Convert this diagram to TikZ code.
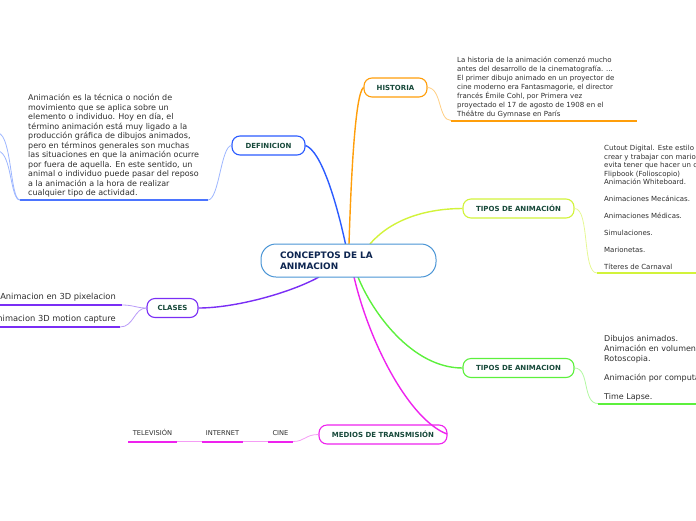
\documentclass[tikz,border=0pt]{standalone}
\usepackage{fontspec}
\setmainfont{DejaVu Sans}
\definecolor{cblue}{HTML}{4A95D5}
\definecolor{ctext}{HTML}{0D2550}
\definecolor{ntext}{HTML}{17493A}
\definecolor{btext}{HTML}{2E2E2E}
\definecolor{dblue}{HTML}{2B5BFF}
\definecolor{dbluel}{HTML}{9DB6FF}
\definecolor{horange}{HTML}{FF9E0A}
\definecolor{horangel}{HTML}{FFCF85}
\definecolor{tyel}{HTML}{D2F33A}
\definecolor{tyell}{HTML}{E6F894}
\definecolor{tgreen}{HTML}{5CF03C}
\definecolor{tgreenl}{HTML}{B2F8A2}
\definecolor{mmag}{HTML}{EE22EE}
\definecolor{mmagl}{HTML}{F59CF5}
\definecolor{cpur}{HTML}{7A2EF5}
\definecolor{cpurl}{HTML}{BA9CF8}
\begin{document}
\begin{tikzpicture}[x=1pt,y=-1pt,
  box/.style={draw, rounded corners=8pt, fill=white, line width=1.1pt, minimum height=19pt, inner sep=0pt, font=\fontsize{7}{8}\selectfont\bfseries, text=ntext},
  mainline/.style={line width=1.4pt},
  subline/.style={line width=0.8pt},
  uline/.style={line width=2pt},
  txt/.style={inner sep=0pt, align=left, text=btext, anchor=north west}]
\useasboundingbox (0,0) rectangle (696,520);
\clip (0,0) rectangle (696,520);

% ---------- main connectors (drawn first, boxes on top)
\coordinate (cDef) at (345.5,244);
\coordinate (cHis) at (349,244);
\coordinate (cTy1) at (370,244);
\coordinate (cTy2) at (358,277);
\coordinate (cMed) at (354,277);
\coordinate (cCla) at (319,277);
\coordinate (medR) at (447,434);

% ---------- nodes
\node[box, draw=dblue, minimum width=73pt] (def) at (268.5,145.5) {DEFINICION};
\node[box, draw=horange, minimum width=63pt] (his) at (395.5,87.5) {HISTORIA};
\node[box, draw=tyel, minimum width=111pt] (ty1) at (518.5,208.5) {TIPOS DE ANIMACIÓN};
\node[box, draw=tgreen, minimum width=111pt] (ty2) at (518.5,368) {TIPOS DE ANIMACION};
\node[box, draw=mmag, minimum width=128pt] (med) at (383,434.5) {MEDIOS DE TRANSMISIÓN};
\node[box, draw=cpur, minimum width=51pt] (cla) at (172.5,308) {CLASES};

\draw[mainline, dblue] (cDef) .. controls (336,200) and (321,151) .. (def.east);
\draw[mainline, horange] (cHis) .. controls (351,180) and (355,94) .. (his.west);
\draw[mainline, tyel] (cTy1) .. controls (395,215) and (435,208.5) .. (ty1.west);
\draw[mainline, tgreen] (cTy2) .. controls (372,312) and (412,368) .. (ty2.west);
\draw[mainline, cpur] (cCla) .. controls (290,293) and (235,308) .. (cla.east);
\draw[mainline, mmag] (cMed) .. controls (370,345) and (410,420) .. (medR);

\node[draw=cblue, line width=1pt, fill=white, rounded corners=15pt, text width=137pt, align=left,
  minimum height=33pt, inner xsep=19pt, inner ysep=0pt,
  font=\fontsize{8.9}{11}\selectfont\bfseries, text=ctext] (c) at (348.5,260.5) {CONCEPTOS DE LA\\ANIMACION};

% ---------- DEFINICION branch
\coordinate (defR) at (208,200);
\coordinate (defL) at (20,200);
\coordinate (defO1) at (-2,133);
\coordinate (defO2) at (-2,151);
\draw[subline, dbluel] (def.west) .. controls (221,146) and (219,200) .. (defR);
\draw[uline, dblue!85] (defL) -- (defR);
\draw[subline, dbluel] (defL) .. controls (10,200) and (12,135) .. (defO1);
\draw[subline, dbluel] (defL) .. controls (10,200) and (12,153) .. (defO2);
\node[txt, font=\fontsize{8}{9.5}\selectfont] (deftxt) at (28,94.3) {Animación es la técnica o noción de\\movimiento que se aplica sobre un\\elemento o individuo. Hoy en día, el\\término animación está muy ligado a la\\producción gráfica de dibujos animados,\\pero en términos generales son muchas\\las situaciones en que la animación ocurre\\por fuera de aquella. En este sentido, un\\animal o individuo puede pasar del reposo\\a la animación a la hora de realizar\\cualquier tipo de actividad.};

% ---------- HISTORIA branch
\coordinate (hisL) at (451,120.5);
\coordinate (hisR) at (637,120.5);
\draw[subline, horangel] (his.east) .. controls (442,88) and (438,120.5) .. (hisL);
\draw[uline, horange] (hisL) -- (hisR);
\node[txt, font=\fontsize{7}{9}\selectfont] (histxt) at (457,56.8) {La historia de la animación comenzó mucho\\antes del desarrollo de la cinematografía. ...\\El primer dibujo animado en un proyector de\\cine moderno era Fantasmagorie, el director\\francés Émile Cohl, por Primera vez\\proyectado el 17 de agosto de 1908 en el\\Théâtre du Gymnase en París};

% ---------- TIPOS DE ANIMACIÓN branch
\coordinate (ty1L) at (597,273);
\coordinate (ty1R) at (700,273);
\draw[subline, tyell] (ty1.east) .. controls (590,208.5) and (582,273) .. (ty1L);
\draw[uline, tyel] (ty1L) -- (ty1R);
\node[txt, font=\fontsize{7}{8.5}\selectfont] (ty1txt) at (604,145.2) {Cutout Digital. Este estilo\\crear y trabajar con mario\\evita tener que hacer un c\\Flipbook (Folioscopio)\\Animación Whiteboard.\\[8.5pt]Animaciones Mecánicas.\\[8.5pt]Animaciones Médicas.\\[8.5pt]Simulaciones.\\[8.5pt]Marionetas.\\[8.5pt]Títeres de Carnaval};

% ---------- TIPOS DE ANIMACION branch
\coordinate (ty2L) at (598,403.5);
\coordinate (ty2R) at (700,403.5);
\draw[subline, tgreenl] (ty2.east) .. controls (590,368) and (582,403.5) .. (ty2L);
\draw[uline, tgreen] (ty2L) -- (ty2R);
\node[txt, font=\fontsize{8}{9.6}\selectfont] (ty2txt) at (604,335.6) {Dibujos animados.\\Animación en volumen\\Rotoscopia.\\[9.6pt]Animación por computa\\[9.6pt]Time Lapse.};

% ---------- MEDIOS branch
\coordinate (cineR) at (293,441.5);
\coordinate (cineL) at (268,441.5);
\coordinate (intR) at (243,441.5);
\coordinate (intL) at (202,441.5);
\coordinate (telR) at (177,441.5);
\coordinate (telL) at (128,441.5);
\draw[subline, mmagl] (med.west) .. controls (305,434.5) and (305,441.5) .. (cineR);
\draw[subline, mmagl] (cineL) -- (intR);
\draw[subline, mmagl] (intL) -- (telR);
\draw[uline, mmag] (cineL) -- (cineR);
\draw[uline, mmag] (intL) -- (intR);
\draw[uline, mmag] (telL) -- (telR);
\node[inner sep=0pt, anchor=base, text=btext, font=\fontsize{6.7}{8}\selectfont] (tel) at (152.5,435.4) {TELEVISIÓN};
\node[inner sep=0pt, anchor=base, text=btext, font=\fontsize{6.7}{8}\selectfont] (int) at (222.5,435.4) {INTERNET};
\node[inner sep=0pt, anchor=base, text=btext, font=\fontsize{6.7}{8}\selectfont] (cine) at (280.5,435.4) {CINE};

% ---------- CLASES branch
\coordinate (cla1R) at (122,305);
\coordinate (cla1L) at (-5,305);
\coordinate (cla2R) at (120,327);
\coordinate (cla2L) at (-5,327);
\draw[subline, cpurl] (cla.west) .. controls (136,308) and (134,305) .. (cla1R);
\draw[subline, cpurl] (cla.west) .. controls (134,308) and (134,327) .. (cla2R);
\draw[uline, cpur] (cla1L) -- (cla1R);
\draw[uline, cpur] (cla2L) -- (cla2R);
\node[inner sep=0pt, anchor=base east, text=btext, font=\fontsize{8.3}{10}\selectfont] (cla1txt) at (116,299.8) {Animacion en 3D pixelacion};
\node[inner sep=0pt, anchor=base east, text=btext, font=\fontsize{8.3}{10}\selectfont] (cla2txt) at (116,321.8) {Animacion 3D motion capture};
\end{tikzpicture}
\end{document}
